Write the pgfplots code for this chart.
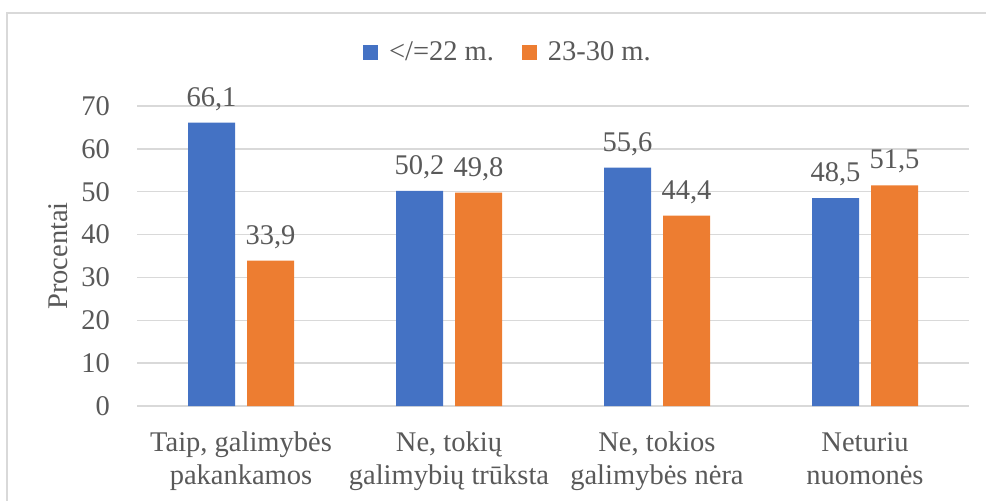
\documentclass[border=0pt]{standalone}
\usepackage{fontspec}
\setmainfont{Liberation Serif}
\usepackage{pgfplots}
\pgfplotsset{compat=1.18}

\definecolor{barblue}{HTML}{4472C4}
\definecolor{barorange}{HTML}{ED7D31}
\definecolor{txtgray}{HTML}{595959}
\definecolor{gridgray}{HTML}{D9D9D9}

\begin{document}
\begin{tikzpicture}[font=\fontsize{28.5}{33}\selectfont, text=txtgray]
  \useasboundingbox (0pt,0pt) rectangle (986pt,501pt);
  % chart frame
  \draw[gridgray, line width=1.3pt] (7pt,0pt) -- (7pt,488pt) -- (986pt,488pt);
  \begin{axis}[
    at={(137pt,95pt)}, anchor=south west,
    scale only axis, width=832pt, height=300pt,
    ybar,
    xmin=-0.5, xmax=3.5,
    ymin=0, ymax=70,
    ytick={0,10,...,70},
    xtick=data,
    xticklabels={{Taip, galimybės\\pakankamos},{Ne, tokių\\galimybių trūksta},{Ne, tokios\\galimybės nėra},{Neturiu\\nuomonės}},
    axis line style={draw=none},
    major tick length=0pt,
    ymajorgrids,
    grid style={gridgray, line width=1.3pt},
    /pgf/number format/assume math mode=true,
    yticklabel style={inner sep=0pt, anchor=east, xshift=-27pt},
    xticklabel style={align=center, inner sep=0pt, anchor=north, yshift=-26pt},
    ylabel={Procentai},
    ylabel style={at={(axis description cs:-0.095,0.5)}, anchor=center, rotate=0, inner sep=0pt},
    bar width=47pt,
    nodes near coords={\pgfmathprintnumber[fixed,fixed zerofill,precision=1,use comma]{\pgfplotspointmeta}},
    every node near coord/.append style={anchor=base, yshift=16.5pt, text=txtgray, font=\fontsize{28.5}{33}\selectfont},
    legend columns=2,
    legend style={draw=none, fill=none, at={(axis description cs:0.4447,1.18)}, anchor=center,
      /tikz/every even column/.append style={column sep=28pt},
      nodes={inner sep=0pt, text=txtgray, font=\fontsize{28.5}{33}\selectfont}},
    legend cell align=left,
  ]
    \addplot[fill=barblue, draw=none, bar shift=-29.5pt,
      legend image code/.code={\fill[barblue] (0pt,-7.5pt) rectangle (15pt,7.5pt); \path (21pt,0pt);}]
      coordinates {(0,66.1) (1,50.2) (2,55.6) (3,48.5)};
    \addlegendentry{\,</=22 m.}
    \addplot[fill=barorange, draw=none, bar shift=29.5pt,
      legend image code/.code={\fill[barorange] (0pt,-7.5pt) rectangle (15pt,7.5pt); \path (21pt,0pt);}]
      coordinates {(0,33.9) (1,49.8) (2,44.4) (3,51.5)};
    \addlegendentry{\,23-30 m.}
  \end{axis}
\end{tikzpicture}
\end{document}
